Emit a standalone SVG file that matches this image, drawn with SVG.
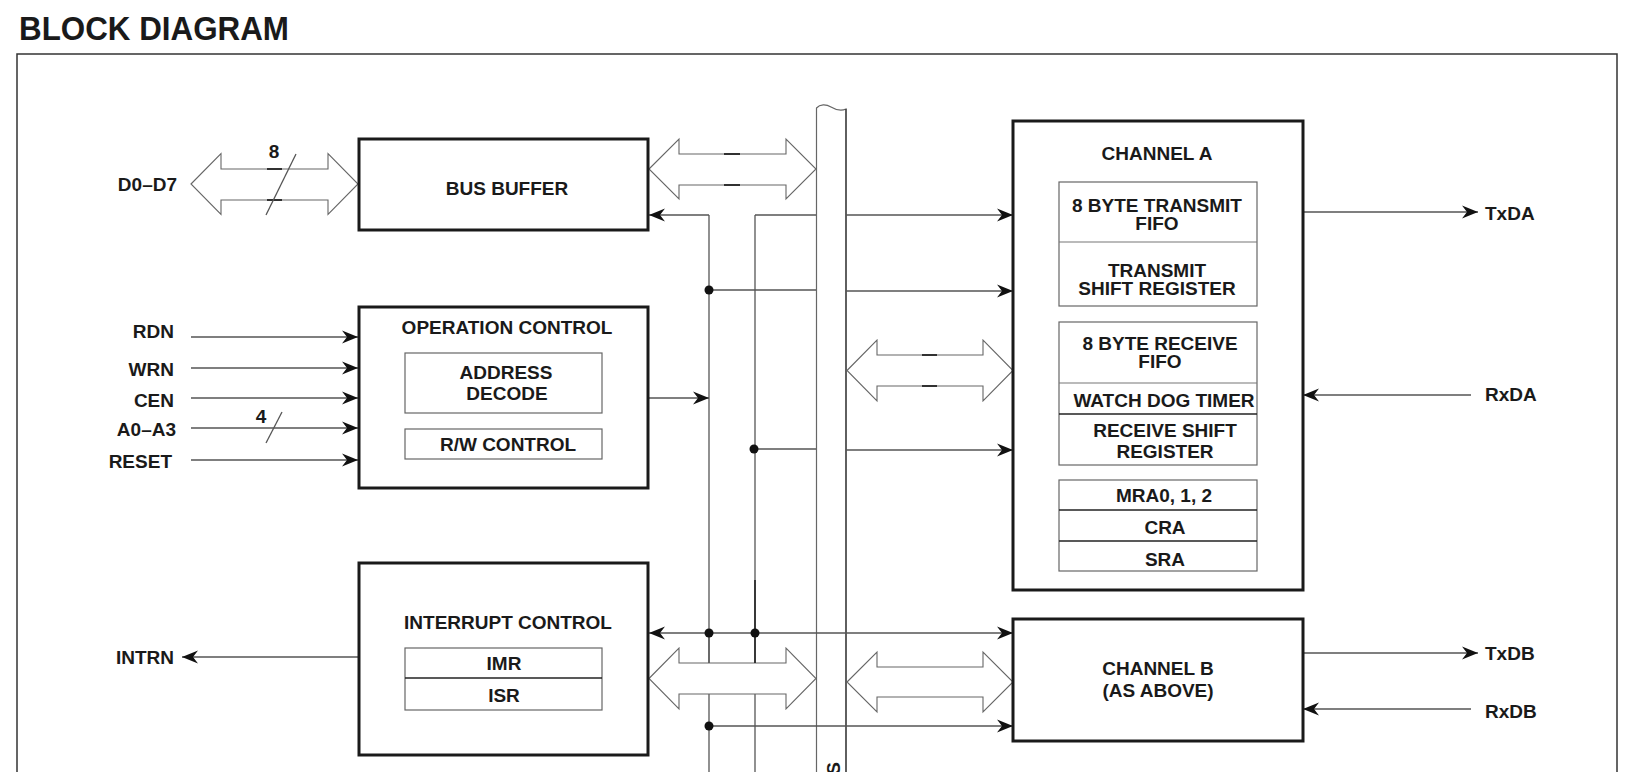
<svg xmlns="http://www.w3.org/2000/svg" width="1636" height="772" viewBox="0 0 1636 772">
  <style>
    .box { fill: #fff; stroke: #1a1a1a; stroke-width: 3; }
    .sub { fill: #fff; stroke: #666; stroke-width: 1.2; }
    .div { stroke: #222; stroke-width: 1.3; }
    .divl { stroke: #777; stroke-width: 1.2; }
    .t { font-family: "Liberation Sans", Arial, sans-serif; font-weight: bold; font-size: 19px; fill: #1a1a1a; }
    .c { text-anchor: middle; }
    .e { text-anchor: end; }
    .w { fill: none; stroke: #555; stroke-width: 1.3; }
    .ar { marker-end: url(#ah); }
    .dbl { fill: #fff; stroke: #666; stroke-width: 1.1; }
    .tick { stroke: #111; stroke-width: 1.6; }
    .dot { fill: #111; }
  </style>
  <defs>
    <marker id="ah" viewBox="-17 -8 18 16" refX="0" refY="0" markerWidth="18" markerHeight="16" orient="auto" markerUnits="userSpaceOnUse">
      <path d="M0,0 L-16,-6.5 L-11,0 L-16,6.5 Z" fill="#111"/>
    </marker>
  </defs>

  <rect width="1636" height="772" fill="#fff"/>

  <!-- title and frame -->
  <text x="19" y="40" font-family="'Liberation Sans', Arial, sans-serif" font-weight="bold" font-size="33" textLength="270" lengthAdjust="spacingAndGlyphs" fill="#1a1a1a">BLOCK DIAGRAM</text>
  <path d="M17,772 V54 H1617 V772" fill="none" stroke="#333" stroke-width="1.5"/>

  <!-- internal bus column -->
  <g id="bus">
    <path d="M816.5,772 V108 C820,104 826,104 831,107 C836,110 842,111 846,109 V772" fill="none" stroke="#666" stroke-width="1.2"/>
    <line x1="846" y1="109" x2="846" y2="772" stroke="#333" stroke-width="1.2"/>
    <text class="t" transform="translate(840,762) rotate(-90)" text-anchor="end">S</text>
  </g>

  <!-- connectors -->
  <g id="connectors">
    <!-- vertical control lines -->
    <line class="w" x1="709" y1="215" x2="709" y2="772"/>
    <line class="w" x1="755" y1="215" x2="755" y2="772"/>
    <line x1="755" y1="580" x2="755" y2="633" stroke="#222" stroke-width="1.6"/>

    <!-- to bus buffer -->
    <polyline class="w ar" points="709,215 649,215"/>
    <!-- to channel A -->
    <line class="w" x1="755" y1="215" x2="816" y2="215"/>
    <line class="w ar" x1="846" y1="215" x2="1013" y2="215"/>
    <line class="w" x1="709" y1="290" x2="816" y2="290"/>
    <line class="w ar" x1="846" y1="291" x2="1013" y2="291"/>
    <line class="w" x1="755" y1="449" x2="816" y2="449"/>
    <line class="w ar" x1="846" y1="450" x2="1013" y2="450"/>
    <!-- operation control output -->
    <line class="w ar" x1="648" y1="398" x2="709" y2="398"/>
    <!-- interrupt / channel B -->
    <line class="w ar" x1="709" y1="633" x2="649" y2="633"/>
    <line class="w ar" x1="709" y1="633" x2="1013" y2="633"/>
    <line class="w ar" x1="709" y1="726" x2="1013" y2="726"/>

    <!-- external pins -->
    <line class="w ar" x1="191" y1="337" x2="358" y2="337"/>
    <line class="w ar" x1="191" y1="368" x2="358" y2="368"/>
    <line class="w ar" x1="191" y1="398" x2="358" y2="398"/>
    <line class="w ar" x1="191" y1="428" x2="358" y2="428"/>
    <line class="w ar" x1="191" y1="460" x2="358" y2="460"/>
    <line class="w" x1="266" y1="443" x2="282" y2="412"/>
    <line class="w ar" x1="359" y1="657" x2="182" y2="657"/>
    <line class="w ar" x1="1303" y1="212" x2="1478" y2="212"/>
    <line class="w ar" x1="1471" y1="395" x2="1303" y2="395"/>
    <line class="w ar" x1="1303" y1="653" x2="1478" y2="653"/>
    <line class="w ar" x1="1471" y1="709" x2="1303" y2="709"/>

    <!-- wide data paths -->
    <polygon class="dbl" points="191,184 221,153.5 221,169 328,169 328,153.5 358,184 328,214.5 328,200 221,200 221,214.5"/>
    <line class="tick" x1="267" y1="169" x2="282" y2="169"/>
    <line class="tick" x1="267" y1="200" x2="282" y2="200"/>
    <line class="w" x1="266" y1="215" x2="296" y2="154"/>

    <polygon class="dbl" points="649,169 679,139 679,154 786,154 786,139 816,169 786,199 786,185 679,185 679,199"/>
    <line class="tick" x1="724" y1="154" x2="740" y2="154"/>
    <line class="tick" x1="724" y1="185" x2="740" y2="185"/>

    <polygon class="dbl" points="847,370.5 877,340 877,355 983,355 983,340 1013,370.5 983,401 983,386 877,386 877,401"/>
    <line class="tick" x1="922" y1="355" x2="937" y2="355"/>
    <line class="tick" x1="922" y1="386" x2="937" y2="386"/>

    <polygon class="dbl" points="649,678.5 679,648 679,663 786,663 786,648 816,678.5 786,709 786,694 679,694 679,709"/>
    <line class="w" x1="709" y1="633" x2="709" y2="663"/>
    <line x1="755" y1="633" x2="755" y2="663" stroke="#222" stroke-width="1.6"/>

    <polygon class="dbl" points="847,682 877,652 877,667 983,667 983,652 1013,682 983,712 983,697 877,697 877,712"/>

    <circle class="dot" cx="709" cy="290" r="4.5"/>
    <circle class="dot" cx="754" cy="449" r="4.5"/>
    <circle class="dot" cx="709" cy="633" r="4.5"/>
    <circle class="dot" cx="755" cy="633" r="4.5"/>
    <circle class="dot" cx="709" cy="726" r="4.5"/>
  </g>

  <!-- pin labels -->
  <g id="pins">
    <text class="t e" x="177" y="191">D0–D7</text>
    <text class="t c" x="274" y="158">8</text>
    <text class="t e" x="174" y="338">RDN</text>
    <text class="t e" x="174" y="376">WRN</text>
    <text class="t e" x="174" y="407">CEN</text>
    <text class="t e" x="176" y="436">A0–A3</text>
    <text class="t e" x="172" y="468">RESET</text>
    <text class="t c" x="261" y="423">4</text>
    <text class="t e" x="174" y="664">INTRN</text>
    <text class="t" x="1485" y="220">TxDA</text>
    <text class="t" x="1485" y="401">RxDA</text>
    <text class="t" x="1485" y="660">TxDB</text>
    <text class="t" x="1485" y="718">RxDB</text>
  </g>

  <g id="bus-buffer">
    <rect class="box" x="359" y="139" width="289" height="91"/>
    <text class="t c" x="507" y="195">BUS BUFFER</text>
  </g>

  <g id="operation-control">
    <rect class="box" x="359" y="307" width="289" height="181"/>
    <text class="t c" x="507" y="334">OPERATION CONTROL</text>
    <rect class="sub" x="405" y="353" width="197" height="60"/>
    <text class="t c" x="506" y="379">ADDRESS</text>
    <text class="t c" x="507" y="400">DECODE</text>
    <rect class="sub" x="405" y="429" width="197" height="30"/>
    <text class="t c" x="508" y="451">R/W CONTROL</text>
  </g>

  <g id="interrupt-control">
    <rect class="box" x="359" y="563" width="289" height="192"/>
    <text class="t c" x="508" y="629">INTERRUPT CONTROL</text>
    <rect class="sub" x="405" y="648" width="197" height="62"/>
    <line class="div" x1="405" y1="678" x2="602" y2="678"/>
    <text class="t c" x="504" y="670">IMR</text>
    <text class="t c" x="504" y="702">ISR</text>
  </g>

  <g id="channel-a">
    <rect class="box" x="1013" y="121" width="290" height="469"/>
    <text class="t c" x="1157" y="160">CHANNEL A</text>
    <rect class="sub" x="1059" y="182" width="198" height="124"/>
    <line class="divl" x1="1059" y1="242" x2="1257" y2="242"/>
    <text class="t c" x="1157" y="212">8 BYTE TRANSMIT</text>
    <text class="t c" x="1157" y="230">FIFO</text>
    <text class="t c" x="1157" y="277">TRANSMIT</text>
    <text class="t c" x="1157" y="295">SHIFT REGISTER</text>
    <rect class="sub" x="1059" y="322" width="198" height="143"/>
    <line class="divl" x1="1059" y1="383" x2="1257" y2="383"/>
    <line class="div" x1="1059" y1="414" x2="1257" y2="414"/>
    <text class="t c" x="1160" y="350">8 BYTE RECEIVE</text>
    <text class="t c" x="1160" y="368">FIFO</text>
    <text class="t c" x="1164" y="407">WATCH DOG TIMER</text>
    <text class="t c" x="1165" y="437">RECEIVE SHIFT</text>
    <text class="t c" x="1165" y="458">REGISTER</text>
    <rect class="sub" x="1059" y="480" width="198" height="91"/>
    <line class="div" x1="1059" y1="510" x2="1257" y2="510"/>
    <line class="div" x1="1059" y1="541" x2="1257" y2="541"/>
    <text class="t c" x="1164" y="502">MRA0, 1, 2</text>
    <text class="t c" x="1165" y="534">CRA</text>
    <text class="t c" x="1165" y="566">SRA</text>
  </g>

  <g id="channel-b">
    <rect class="box" x="1013" y="619" width="290" height="122"/>
    <text class="t c" x="1158" y="675">CHANNEL B</text>
    <text class="t c" x="1158" y="697">(AS ABOVE)</text>
  </g>
</svg>
